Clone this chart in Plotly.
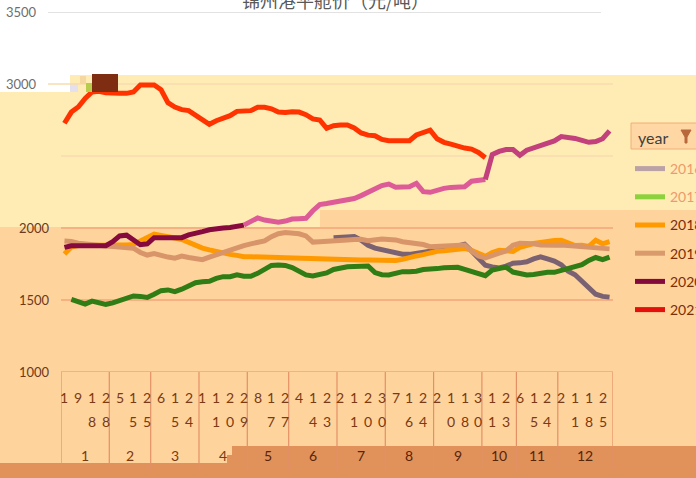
import plotly.graph_objects as go

# ---------------- data ----------------
months = [1,1,1,1,1,1,1, 2,2,2,2,2,2, 3,3,3,3,3,3,3, 4,4,4,4,4,4,4, 5,5,5,5,5,5,
          6,6,6,6,6,6,6, 7,7,7,7,7,7,7, 8,8,8,8,8,8,8, 9,9,9,9,9,9,9, 10,10,10,10,10,
          11,11,11,11,11,11, 12,12,12,12,12,12,12,12]
days = [1,5,9,13,18,23,28, 1,5,10,15,20,25, 2,6,10,15,20,24,28, 1,6,11,15,20,25,29,
        4,8,12,17,22,27, 1,4,9,14,18,23,28, 2,6,11,15,20,25,30, 3,7,11,16,20,24,28,
        2,6,10,14,18,24,30, 8,11,17,23,28, 6,10,15,20,24,28, 2,7,11,15,18,22,25,29]

y2016 = [None]*39 + [1932,1935,1938,1940,1915,1880,1860,1848,1835,1825,1818,1817,1825,1833,
                     1838,1842,1850,1862,1875,1887,1840,1790,1742,1730,1722,1735,1755,1758,
                     1765,1785,1800,1785,1770,1745,1700,1675,1630,1590,1540,1525,1520]
y2017 = [None,1505,1485,1472,1492,1480,1470,1480,1495,1515,1528,1525,1518,1540,1565,1570,
         1558,1575,1600,1620,1627,1630,1650,1662,1662,1675,1665,1665,1685,1715,1740,1743,
         1740,1725,1695,1674,1667,1675,1688,1712,1725,1731,1733,1735,1736,1690,1676,1674,
         1688,1697,1697,1700,1712,1713,1718,1724,1727,1727,1712,1697,1683,1669,1708,1722,
         1728,1694,1680,1674,1677,1685,1692,1692,1705,1726,1731,1745,1775,1795,1780,1798]
y2018 = [1820,1868,1878,1880,1880,1880,1880,1882,1882,1882,1885,1910,1935,1958,1948,1935,
         1930,1920,1900,1878,1860,1848,1836,1825,1817,1810,1800,1800,1801,1801,1800,1796,
         1794,1792,1790,1788,1785,1783,1780,1778,1778,1778,1778,1778,1778,1778,1775,1771,
         1775,1782,1790,1806,1815,1830,1838,1842,1847,1853,1858,1845,1825,1803,1830,1845,
         1842,1838,1865,1880,1892,1900,1908,1914,1915,1895,1878,1880,1872,1915,1890,1905]
y2019 = [1910,1907,1895,1888,1885,1880,1875,1872,1870,1870,1860,1830,1812,1822,1808,1798,
         1790,1805,1795,1785,1780,1798,1815,1830,1845,1858,1878,1890,1900,1910,1940,1960,
         1968,1965,1960,1945,1902,1905,1910,1912,1915,1917,1920,1922,1912,1920,1924,1920,
         1917,1905,1900,1894,1885,1870,1872,1877,1877,1880,1882,1840,1805,1792,1805,1825,
         1840,1880,1894,1894,1890,1882,1878,1880,1882,1878,1872,1868,1865,1860,1857,1855]
y2020 = [1865,1877,1877,1877,1877,1877,1877,1905,1945,1950,1915,1884,1890,1933,1933,1933,
         1933,1933,1952,1968,1975,1988,1996,2000,2003,2009,2020,2050,2070,2055,2044,2041,
         2048,2062,2064,2067,2120,2163,2170,2178,2186,2195,2205,2225,2250,2275,2295,2305,
         2283,2285,2287,2310,2252,2248,2265,2275,2282,2285,2287,2325,2335,2337,2510,2532,
         2545,2545,2505,2540,2555,2568,2585,2605,2635,2632,2622,2608,2595,2600,2620,2675]
y2021 = [2727,2805,2840,2900,2945,2950,2940,2935,2935,2935,2945,2993,2993,2993,2960,2870,
         2840,2822,2815,2785,2750,2720,2745,2765,2780,2810,2812,2815,2838,2838,2828,2805,
         2802,2808,2805,2787,2758,2750,2692,2710,2715,2715,2695,2660,2645,2641,2615,2606,
         2606,2606,2606,2646,2665,2680,2620,2595,2582,2565,2555,2548,2525,2488]

years = ["2016", "2017", "2018", "2019", "2020", "2021"]
legend_colors = ["#BBA2A7", "#8CD23C", "#FF9A00", "#D99A6C", "#820A3C", "#E3100C"]
legend_text_colors = ["#EE9A6C", "#EE9A6C", "#7A2E0A", "#7A2E0A", "#7A2E0A", "#7A2E0A"]
ytick_vals = [1000, 1500, 2000, 3000, 3500]
grid_vals = [1500, 2000, 2500, 3000, 3500]

# ---------------- geometry helpers (layout only) ----------------
W, H = 696, 478
L, R, T, B = 61, 613, 12, 372


def px_x(px):
    return (px - L) / (R - L)


def px_y(py):
    return (B - py) / (B - T)


cats = [f"{m}-{d}" for m, d in zip(months, days)]
N = len(cats)

fig = go.Figure()

line_w = 5


def add_line(y, color, name):
    fig.add_trace(go.Scatter(x=cats, y=y, mode="lines", name=name, showlegend=False,
                             line=dict(color=color, width=line_w), connectgaps=False,
                             hoverinfo="x+y+name"))


add_line(y2016, "#7A6272", "2016")
add_line(y2017, "#2F7D14", "2017")
add_line(y2018, "#FF9900", "2018")
add_line(y2019, "#D9956A", "2019")
# 2020 drawn in three tones (as it appears over the different bands)
s1, s2 = 26, 61
add_line([v if i <= s1 else None for i, v in enumerate(y2020)], "#870A3E", "2020")
add_line([v if s1 <= i <= s2 else None for i, v in enumerate(y2020)], "#DD5C98", "2020")
add_line([v if i >= s2 else None for i, v in enumerate(y2020)], "#C2417C", "2020")
add_line(y2021 + [None] * (N - len(y2021)), "#FF3300", "2021")

# legend entries
for yr, c, tc in zip(years, legend_colors, legend_text_colors):
    fig.add_trace(go.Scatter(x=[None], y=[None], mode="lines", legendgroup=yr,
                             name=f"<span style='color:{tc}'>{yr}</span>",
                             line=dict(color=c, width=5)))

shapes = []
# background bands
YEL, PEACH, DARK = "#FFEBB4", "#FFD39C", "#E0925A"


def rect(x0, x1, y0, y1, color, layer="below"):
    return dict(type="rect", xref="paper", yref="paper", x0=px_x(x0), x1=px_x(x1),
                y0=px_y(y1), y1=px_y(y0), fillcolor=color, line_width=0, layer=layer)


shapes += [
    rect(0, 320, 75, 227, YEL),
    rect(320, W, 75, 210, YEL),
    rect(0, 320, 227, H, PEACH),
    rect(320, W, 210, H, PEACH),
    rect(0, 228, 463, H, DARK),
    rect(227, 233, 455, H, DARK),
    rect(232, W, 446, H, DARK),
    rect(0, 70, 75, 92, "#FFFFFF"),
    rect(70, 78, 83, 92, "#E4E0EE"),
]
# gridlines
grid_extent = {3500: (48, 601), 3000: (48, 613)}
for v in grid_vals:
    col = "#F5A57A" if v <= 2000 else ("#D9D9D9" if v >= 3500 else "#F8DDAF")
    gx0, gx1 = grid_extent.get(v, (L, R))
    shapes.append(dict(type="line", xref="paper", yref="y", x0=px_x(gx0), x1=px_x(gx1), y0=v, y1=v,
                       line=dict(color=col, width=1.5), layer="below"))
# category axis line and group dividers
shapes.append(dict(type="line", xref="paper", yref="y", x0=0, x1=1, y0=1000, y1=1000,
                   line=dict(color="#F5A57A", width=1.5), layer="below"))
bounds = [-0.5] + [i - 0.5 for i in range(1, N) if months[i] != months[i - 1]] + [N - 0.5]
for b in bounds:
    shapes.append(dict(type="line", xref="x", yref="paper", x0=b, x1=b, y0=px_y(470), y1=px_y(372),
                       line=dict(color="#E39066", width=1.2), layer="below"))
# small glitch icons at the top-left of the plot (as in the reference)
shapes += [
    rect(80, 86, 76, 84, "#F6D7A0", layer="above"),
    rect(86, 92, 83, 92, "#B9CB4C", layer="above"),
    rect(92, 118, 74, 92, "#7E2C12", layer="above"),
]
# legend header box
shapes.append(dict(type="rect", xref="paper", yref="paper", x0=px_x(631), x1=px_x(704),
                   y0=px_y(149), y1=px_y(123), fillcolor="#FFD7A4",
                   line=dict(color="#F0AE78", width=1)))
shapes.append(dict(type="path", xref="paper", yref="paper",
                   path=f"M {px_x(681)} {px_y(130)} L {px_x(691)} {px_y(130)} L {px_x(687)} {px_y(137)} "
                        f"L {px_x(687)} {px_y(143)} L {px_x(685)} {px_y(143)} L {px_x(685)} {px_y(137)} Z",
                   fillcolor="#B8683A", line=dict(color="#B8683A", width=1)))

ann = []
# title (partly cut off at the top, as in the reference)
ann.append(dict(text="锦州港平舱价（元/吨）", xref="paper", yref="paper", x=px_x(335), y=px_y(0),
                xanchor="center", yanchor="middle", showarrow=False,
                font=dict(family="Noto Sans CJK SC", size=18, color="#595959")))
# y tick labels
for v in ytick_vals:
    right = 39 if v >= 3000 else 52
    col = "#6E6E6E" if v >= 3000 else "#6B3A1A"
    ann.append(dict(text=str(v), xref="paper", yref="y", x=px_x(right), y=v, xanchor="right",
                    yanchor="middle", showarrow=False, font=dict(family="Lato", size=13, color=col)))
# day labels (stacked digits, every second category)
for i in range(0, N, 2):
    for k, ch in enumerate(str(days[i])):
        ann.append(dict(text=ch, xref="x", yref="paper", x=i, y=px_y(397 + 24 * k),
                        xanchor="center", yanchor="middle", showarrow=False,
                        font=dict(family="Lato", size=14, color="#7B3A12")))
# month labels
for m in sorted(set(months)):
    idx = [i for i, mm in enumerate(months) if mm == m]
    ann.append(dict(text=str(m), xref="x", yref="paper", x=(idx[0] + idx[-1]) / 2, y=px_y(455),
                    xanchor="center", yanchor="middle", showarrow=False,
                    font=dict(family="Lato", size=14, color="#5A2406" if m >= 5 else "#7B3A12")))
# legend header text
ann.append(dict(text="year", xref="paper", yref="paper", x=px_x(636), y=px_y(137), xanchor="left",
                yanchor="middle", showarrow=False, font=dict(family="Lato", size=16, color="#404040")))

fig.update_layout(
    width=W, height=H,
    margin=dict(l=L, r=W - R, t=T, b=H - B, pad=0),
    paper_bgcolor="white", plot_bgcolor="rgba(0,0,0,0)",
    xaxis=dict(type="category", range=[-0.5, N - 0.5], showgrid=False, showticklabels=False,
               showline=False, zeroline=False, ticks=""),
    yaxis=dict(range=[1000, 3500], showgrid=False, showticklabels=False, showline=False,
               zeroline=False, ticks=""),
    shapes=shapes, annotations=ann,
    legend=dict(xref="container", yref="container", x=630 / W, y=1 - 153 / H,
                xanchor="left", yanchor="top", bgcolor="rgba(0,0,0,0)",
                font=dict(family="Lato", size=14), traceorder="grouped", tracegroupgap=7),
    showlegend=True,
)

fig.write_html("out.html", config={"displayModeBar": False},
               post_script="document.body.style.margin='0';document.body.style.overflow='hidden';")
